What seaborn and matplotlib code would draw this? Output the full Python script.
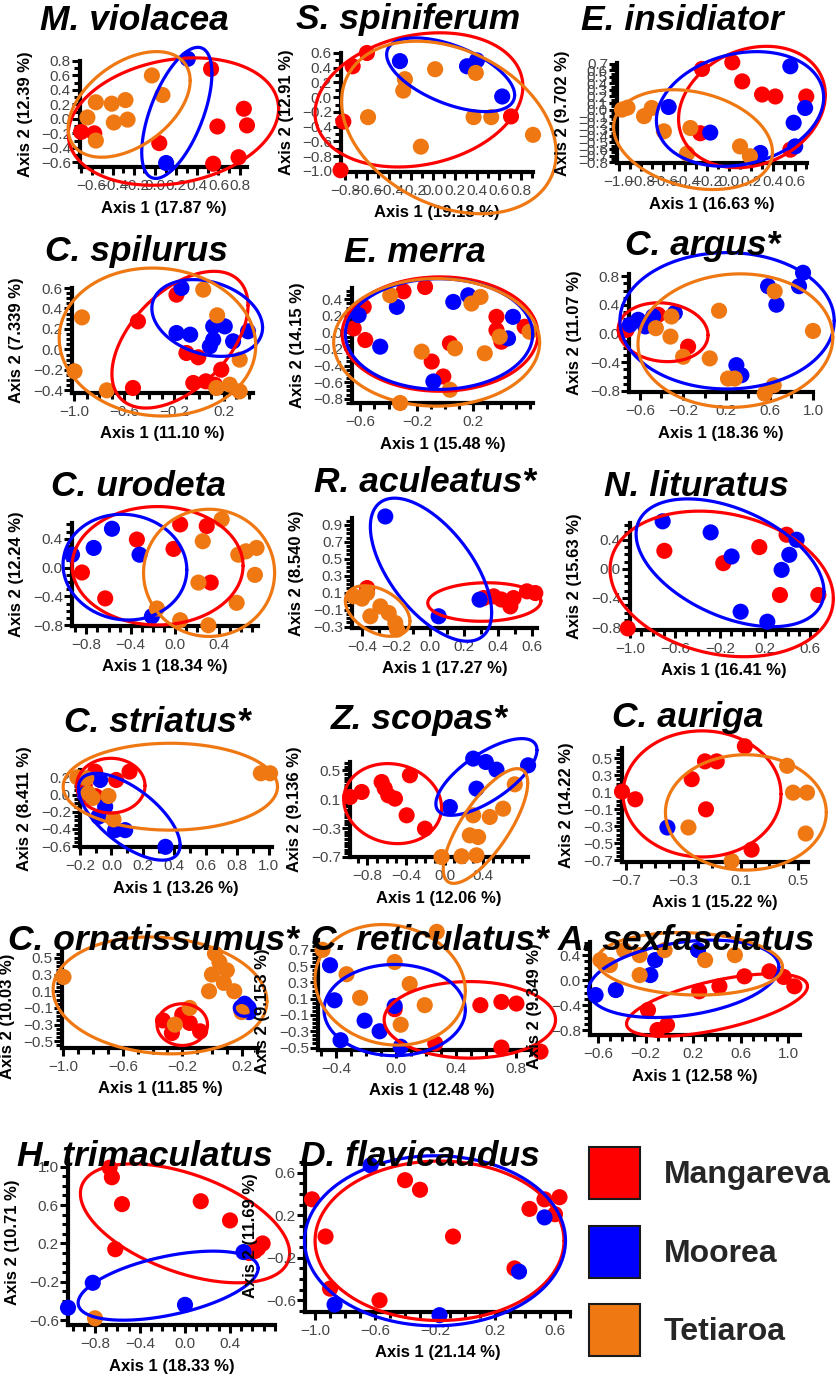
import numpy as np
import pandas as pd
import matplotlib
matplotlib.use("Agg")
import matplotlib.pyplot as plt
import seaborn as sns
from matplotlib.ticker import FixedLocator, FuncFormatter
from matplotlib.patches import Patch

SITES = ["Mangareva", "Moorea", "Tetiaroa"]
PALETTE = {"Mangareva": "#ff0000", "Moorea": "#0000ff", "Tetiaroa": "#ef7813"}

TITLES = ["M. violacea", "S. spiniferum", "E. insidiator",
          "C. spilurus", "E. merra", "C. argus*",
          "C. urodeta", "R. aculeatus*", "N. lituratus",
          "C. striatus*", "Z. scopas*", "C. auriga",
          "C. ornatissumus*", "C. reticulatus*", "A. sexfasciatus",
          "H. trimaculatus", "D. flavicaudus"]
AXIS1_PCT = ["17.87", "19.18", "16.63", "11.10", "15.48", "18.36", "18.34", "17.27",
             "16.41", "13.26", "12.06", "15.22", "11.85", "12.48", "12.58", "18.33", "21.14"]
AXIS2_PCT = ["12.39", "12.91", "9.702", "7.339", "14.15", "11.07", "12.24", "8.540",
             "15.63", "8.411", "9.136", "14.22", "10.03", "9.153", "9.349", "10.71", "11.69"]

# PCoA scores (Axis 1, Axis 2) per sampling site
M_VIOLACEA = {
    "Mangareva": [(-0.70, -0.18), (-0.575, -0.20), (0.53, 0.69), (0.84, 0.14), (0.87, -0.09),
                  (0.59, -0.105), (0.04, -0.335), (0.55, -0.62), (0.79, -0.53)],
    "Moorea": [(0.31, 0.83), (0.105, -0.61)],
    "Tetiaroa": [(-0.03, 0.60), (0.07, 0.33), (-0.56, 0.23), (-0.41, 0.21), (-0.28, 0.26),
                 (-0.64, 0.02), (-0.39, -0.05), (-0.26, -0.01), (-0.56, -0.30)],
}
S_SPINIFERUM = {
    "Mangareva": [(-0.60, 0.60), (-0.73, 0.42), (-0.815, -0.33), (-0.84, -0.99), (0.71, -0.26)],
    "Moorea": [(-0.30, 0.49), (0.31, 0.42), (0.40, 0.50), (0.63, 0.01)],
    "Tetiaroa": [(0.02, 0.38), (-0.255, 0.245), (-0.27, 0.09), (0.39, 0.33), (-0.59, -0.27),
                 (0.37, -0.27), (0.53, -0.27), (0.91, -0.51), (-0.11, -0.67)],
}
E_INSIDIATOR = {
    "Mangareva": [(-0.245, 0.62), (0.03, 0.72), (0.12, 0.43), (0.30, 0.23), (0.42, 0.20),
                  (0.70, 0.20), (-0.26, -0.36), (0.556, -0.61)],
    "Moorea": [(0.556, 0.66), (0.69, 0.025), (0.586, -0.20), (-0.547, 0.04), (-0.17, -0.35),
               (0.284, -0.66), (0.60, -0.56)],
    "Tetiaroa": [(-0.97, 0.0), (-0.92, 0.03), (-0.77, -0.10), (-0.70, 0.025), (-0.59, -0.33),
                 (-0.35, -0.28), (-0.38, -0.67), (0.10, -0.56), (0.19, -0.71)],
}
C_SPILURUS = {
    "Mangareva": [(-0.18, 0.535), (-0.49, 0.274), (-0.53, -0.377), (-0.10, -0.035), (-0.005, -0.077),
                  (0.18, -0.198), (-0.045, -0.328), (0.056, -0.312), (0.128, -0.345)],
    "Moorea": [(-0.14, 0.60), (-0.18, 0.16), (-0.07, 0.144), (0.115, 0.225), (0.208, 0.225),
               (0.115, 0.095), (0.088, 0.03), (0.275, 0.079), (0.395, 0.177)],
    "Tetiaroa": [(-0.94, 0.313), (-1.0, -0.214), (-0.74, -0.40), (0.035, 0.584), (0.147, 0.333),
                 (0.328, -0.10), (0.248, -0.345), (0.328, -0.41), (0.141, -0.377)],
}
E_MERRA = {
    "Mangareva": [(-0.294, 0.496), (-0.141, 0.548), (-0.576, 0.308), (-0.647, 0.048), (-0.565, -0.092),
                  (0.035, -0.132), (-0.094, -0.352), (-0.012, -0.532), (0.365, 0.188), (0.365, 0.028),
                  (0.40, -0.112), (0.565, 0.068)],
    "Moorea": [(-0.341, 0.308), (-0.612, 0.208), (-0.459, -0.172), (0.059, 0.368), (0.165, 0.448),
               (-0.082, -0.592), (0.447, -0.072), (0.482, 0.188)],
    "Tetiaroa": [(-0.388, 0.448), (0.188, 0.348), (0.252, 0.428), (-0.165, -0.232), (0.071, -0.192),
                 (0.282, -0.252), (0.388, -0.052), (0.60, 0.008), (0.035, -0.692), (-0.318, -0.852)],
}
C_ARGUS = {
    "Mangareva": [(-0.723, 0.05), (-0.431, 0.262), (-0.154, -0.182)],
    "Moorea": [(-0.692, 0.122), (-0.615, 0.192), (-0.55, 0.10), (-0.477, 0.239), (-0.277, 0.286),
               (0.585, 0.66), (0.662, 0.402), (0.908, 0.847), (0.871, 0.66), (0.292, -0.44), (0.338, -0.58)],
    "Tetiaroa": [(-0.452, 0.075), (-0.308, 0.238), (-0.317, -0.042), (-0.20, -0.323), (0.132, 0.318),
                 (0.046, -0.346), (0.215, -0.627), (0.277, -0.627), (0.646, 0.589), (1.0, 0.037),
                 (0.554, -0.837), (0.637, -0.72)],
}
C_URODETA = {
    "Mangareva": [(-0.344, 0.39), (-0.84, -0.067), (-0.63, -0.427), (0.047, 0.60), (0.287, 0.578),
                  (-0.013, 0.26), (0.323, -0.207)],
    "Moorea": [(-0.93, 0.18), (-0.734, 0.274), (-0.569, 0.54), (-0.32, 0.18), (-0.208, -0.675)],
    "Tetiaroa": [(0.422, 0.67), (0.251, 0.367), (0.572, 0.18), (0.641, 0.227), (0.737, 0.274),
                 (0.722, -0.10), (0.212, -0.207), (0.557, -0.488), (-0.163, -0.567), (0.047, -0.73),
                 (0.302, -0.80)],
}
R_ACULEATUS = {
    "Mangareva": [(-0.37, 0.155), (0.316, 0.037), (0.375, 0.057), (0.42, 0.02), (0.473, -0.061),
                  (0.492, 0.037), (0.571, 0.116), (0.62, 0.096)],
    "Moorea": [(-0.263, 0.998), (0.051, -0.178), (0.292, 0.018)],
    "Tetiaroa": [(-0.449, 0.057), (-0.40, 0.03), (-0.292, -0.061), (-0.351, -0.178), (-0.204, -0.257),
                 (-0.194, -0.335), (-0.243, -0.139), (-0.37, 0.096)],
}
N_LITURATUS = {
    "Mangareva": [(-0.695, 0.248), (-0.172, 0.078), (0.148, 0.299), (0.39, 0.469), (0.331, -0.359),
                  (0.672, -0.359), (-1.02, -0.818)],
    "Moorea": [(-0.71, 0.653), (-0.284, 0.501), (-0.098, 0.17), (0.479, 0.40), (0.414, 0.193),
               (0.346, -0.014), (-0.018, -0.589), (0.219, -0.726)],
    "Tetiaroa": [],
}
C_STRIATUS = {
    "Mangareva": [(-0.104, 0.266), (0.03, 0.169), (0.115, 0.266), (-0.17, 0.10), (-0.10, -0.02)],
    "Moorea": [(-0.072, 0.169), (-0.17, 0.0), (-0.04, -0.142), (-0.083, -0.258), (0.023, -0.414),
               (0.087, -0.414), (0.343, -0.608)],
    "Tetiaroa": [(-0.217, 0.20), (-0.16, 0.19), (-0.147, 0.014), (-0.12, -0.04), (-0.019, -0.017),
                 (0.013, -0.289), (0.949, 0.247), (1.008, 0.247)],
}
Z_SCOPAS = {
    "Mangareva": [(-0.979, 0.131), (-0.859, 0.20), (-0.652, 0.338), (-0.62, 0.25), (-0.583, 0.154),
                  (-0.514, 0.108), (-0.359, 0.431), (-0.393, -0.123), (-0.203, -0.308)],
    "Moorea": [(0.297, 0.662), (0.428, 0.615), (0.538, 0.509), (0.866, 0.569), (0.331, 0.246),
               (0.055, -0.008)],
    "Tetiaroa": [(0.728, 0.306), (0.607, -0.031), (0.469, -0.146), (0.297, -0.123), (0.262, -0.40),
                 (0.348, -0.423), (-0.031, -0.70), (0.176, -0.69), (0.331, -0.677)],
}
C_AURIGA = {
    "Mangareva": [(-0.73, 0.106), (-0.637, 0.016), (-0.242, 0.252), (-0.149, 0.461), (-0.067, 0.461),
                  (0.13, 0.638), (-0.142, -0.102), (0.177, -0.575)],
    "Moorea": [(-0.412, -0.315)],
    "Tetiaroa": [(-0.265, -0.315), (0.426, 0.409), (0.467, 0.094), (0.565, 0.094), (0.556, -0.386),
                 (0.037, -0.709)],
}
C_ORNATISSUMUS = {
    "Mangareva": [(-0.33, -0.25), (-0.27, -0.40), (-0.15, -0.28), (-0.08, -0.38), (-0.20, -0.18)],
    "Moorea": [(0.20, -0.10), (0.25, -0.15), (0.22, -0.05)],
    "Tetiaroa": [(-1.0, 0.27), (0.02, 0.55), (0.05, 0.45), (0.10, 0.35), (0.0, 0.30), (0.08, 0.20),
                 (0.15, 0.10), (-0.02, 0.10), (-0.25, -0.30), (0.20, -0.15), (-0.15, -0.10)],
}
C_RETICULATUS = {
    "Mangareva": [(-0.01, -0.03), (0.56, 0.02), (0.70, 0.06), (0.80, 0.04), (0.96, -0.55),
                  (0.70, -0.50), (0.26, -0.45)],
    "Moorea": [(-0.44, 0.51), (-0.41, 0.08), (-0.37, -0.41), (-0.21, -0.17), (-0.11, -0.30),
               (-0.01, 0.01), (0.03, -0.49)],
    "Tetiaroa": [(0.27, 0.92), (-0.49, 0.70), (-0.33, 0.40), (-0.01, 0.55), (0.09, 0.28),
                 (0.19, 0.02), (0.03, -0.22), (-0.24, 0.11)],
}
A_SEXFASCIATUS = {
    "Mangareva": [(0.25, -0.18), (0.42, -0.10), (0.63, 0.06), (0.84, 0.14), (0.96, 0.05),
                  (1.05, -0.10), (-0.18, -0.48), (-0.10, -0.80), (-0.02, -0.72)],
    "Moorea": [(-0.62, -0.24), (-0.45, -0.16), (-0.16, 0.08), (-0.12, 0.32), (0.24, 0.48)],
    "Tetiaroa": [(-0.58, 0.32), (-0.50, 0.24), (-0.38, 0.48), (-0.25, 0.40), (-0.25, 0.08),
                 (-0.04, 0.48), (0.30, 0.32), (0.55, 0.40)],
}
H_TRIMACULATUS = {
    "Mangareva": [(-0.67, 0.99), (-0.65, 0.89), (-0.56, 0.61), (-0.62, 0.14), (0.14, 0.64),
                  (0.40, 0.44), (0.65, 0.15), (0.69, 0.20), (0.62, 0.12), (0.57, 0.10)],
    "Moorea": [(-1.04, -0.47), (-0.82, -0.21), (0.0, -0.44), (0.52, 0.11)],
    "Tetiaroa": [(-0.80, -0.58)],
}
D_FLAVICAUDUS = {
    "Mangareva": [(-1.02, 0.35), (-0.40, 0.53), (-0.30, 0.44), (-0.93, 0.0), (-0.90, -0.49),
                  (-0.57, -0.60), (-0.08, 0.0), (0.33, -0.30), (0.53, 0.35), (0.63, 0.37),
                  (0.60, 0.21), (0.43, 0.26)],
    "Moorea": [(-0.63, 0.67), (-0.87, -0.64), (-0.17, -0.74), (0.53, 0.18), (0.36, -0.33)],
    "Tetiaroa": [],
}

# 95 % ellipses per site: (centre x, centre y, half-width, half-height, correlation)
ELL_M_VIOLACEA = {"Mangareva": (0.174, -0.037, 0.995, 0.88, 0.2),
                  "Moorea": (0.206, 0.083, 0.332, 0.906, 0.6),
                  "Tetiaroa": (-0.245, 0.20, 0.577, 0.73, 0.45)}
ELL_S_SPINIFERUM = {"Mangareva": (-0.127, -0.036, 0.945, 0.91, 0.2),
                    "Moorea": (0.161, 0.305, 0.582, 0.50, -0.55),
                    "Tetiaroa": (0.145, -0.41, 0.976, 1.17, -0.3)}
ELL_E_INSIDIATOR = {"Mangareva": (0.208, 0.04, 0.665, 0.924, 0.2),
                    "Moorea": (0.10, 0.01, 0.758, 0.873, 0.2),
                    "Tetiaroa": (-0.326, -0.457, 0.72, 0.76, -0.25)}
ELL_C_SPILURUS = {"Mangareva": (-0.152, 0.095, 0.547, 0.668, 0.5),
                  "Moorea": (0.067, 0.307, 0.445, 0.375, -0.25),
                  "Tetiaroa": (-0.333, 0.072, 0.79, 0.723, -0.05)}
ELL_E_MERRA = {"Mangareva": (-0.035, -0.02, 0.694, 0.69, 0.0),
               "Moorea": (-0.042, -0.02, 0.664, 0.668, 0.0),
               "Tetiaroa": (-0.059, -0.12, 0.73, 0.77, 0.0)}
ELL_C_ARGUS = {"Mangareva": (-0.385, 0.019, 0.415, 0.41, -0.1),
               "Moorea": (0.206, 0.178, 0.99, 0.95, 0.0),
               "Tetiaroa": (0.283, -0.098, 0.90, 0.93, 0.05)}
ELL_C_URODETA = {"Mangareva": (-0.157, 0.026, 0.772, 0.822, 0.0),
                 "Moorea": (-0.452, 0.007, 0.559, 0.734, -0.05),
                 "Tetiaroa": (0.308, -0.072, 0.592, 0.883, 0.0)}
ELL_R_ACULEATUS = {"Mangareva": (0.32, -0.01, 0.333, 0.227, 0.05),
                   "Moorea": (0.006, 0.371, 0.357, 0.843, -0.6),
                   "Tetiaroa": (-0.308, -0.116, 0.19, 0.298, -0.4)}
ELL_N_LITURATUS = {"Mangareva": (-0.186, -0.207, 0.991, 1.0, -0.2),
                   "Moorea": (-0.112, 0.083, 0.834, 0.878, -0.45)}
ELL_C_STRIATUS = {"Mangareva": (-0.004, 0.103, 0.217, 0.318, 0.0),
                  "Moorea": (0.113, -0.258, 0.323, 0.505, -0.65),
                  "Tetiaroa": (0.374, 0.091, 0.681, 0.505, 0.0)}
ELL_Z_SCOPAS = {"Mangareva": (-0.538, 0.039, 0.507, 0.554, -0.1),
                "Moorea": (0.434, 0.408, 0.524, 0.531, 0.7),
                "Tetiaroa": (0.424, -0.271, 0.438, 0.794, 0.75)}
ELL_C_AURIGA = {"Mangareva": (-0.17, 0.079, 0.553, 0.74, 0.0),
                "Tetiaroa": (0.137, -0.138, 0.563, 0.677, 0.0)}
ELL_C_ORNATISSUMUS = {"Mangareva": (-0.20, -0.30, 0.17, 0.25, 0.0),
                      "Moorea": (0.22, -0.10, 0.07, 0.10, 0.0),
                      "Tetiaroa": (-0.35, 0.05, 0.72, 0.70, -0.1)}
ELL_C_RETICULATUS = {"Mangareva": (0.49, -0.16, 0.57, 0.47, 0.0),
                     "Moorea": (-0.01, -0.04, 0.47, 0.56, 0.0),
                     "Tetiaroa": (-0.04, 0.27, 0.50, 0.74, -0.1)}
ELL_A_SEXFASCIATUS = {"Mangareva": (0.40, -0.40, 0.76, 0.50, 0.6),
                      "Moorea": (0.12, 0.02, 0.80, 0.62, 0.3),
                      "Tetiaroa": (0.17, 0.26, 0.78, 0.50, -0.1)}
ELL_H_TRIMACULATUS = {"Mangareva": (0.0, 0.41, 0.93, 0.62, -0.5),
                      "Moorea": (-0.15, -0.24, 0.80, 0.36, 0.5)}
ELL_D_FLAVICAUDUS = {"Mangareva": (-0.17, -0.04, 0.83, 0.75, 0.0),
                     "Moorea": (-0.20, -0.04, 0.87, 0.80, 0.0)}

POINTS = [M_VIOLACEA, S_SPINIFERUM, E_INSIDIATOR, C_SPILURUS, E_MERRA, C_ARGUS,
          C_URODETA, R_ACULEATUS, N_LITURATUS, C_STRIATUS, Z_SCOPAS, C_AURIGA,
          C_ORNATISSUMUS, C_RETICULATUS, A_SEXFASCIATUS, H_TRIMACULATUS, D_FLAVICAUDUS]
ELLIPSES = [ELL_M_VIOLACEA, ELL_S_SPINIFERUM, ELL_E_INSIDIATOR, ELL_C_SPILURUS, ELL_E_MERRA,
            ELL_C_ARGUS, ELL_C_URODETA, ELL_R_ACULEATUS, ELL_N_LITURATUS, ELL_C_STRIATUS,
            ELL_Z_SCOPAS, ELL_C_AURIGA, ELL_C_ORNATISSUMUS, ELL_C_RETICULATUS,
            ELL_A_SEXFASCIATUS, ELL_H_TRIMACULATUS, ELL_D_FLAVICAUDUS]

# axis ranges
XLIM = [(-0.71, 0.87), (-0.836, 0.91), (-1.015, 0.707), (-1.02, 0.435), (-0.659, 0.624), (-0.70, 1.0),
        (-0.93, 0.75), (-0.459, 0.63), (-1.0, 0.66), (-0.2, 1.02), (-0.98, 0.865), (-0.73, 0.572),
        (-1.01, 0.31), (-0.52, 0.99), (-0.667, 1.097), (-1.04, 0.80), (-1.067, 0.70)]
YLIM = [(-0.665, 0.80), (-1.014, 0.60), (-0.813, 0.71), (-0.426, 0.60), (-0.852, 0.536), (-0.814, 0.83),
        (-0.81, 0.62), (-0.316, 0.98), (-0.84, 0.63), (-0.61, 0.285), (-0.70, 0.615), (-0.72, 0.618),
        (-0.58, 0.57), (-0.53, 0.82), (-0.88, 0.61), (-0.65, 1.07), (-0.71, 0.72)]
# labelled ticks (first, last, step) and minor tick step
XTICKS = [(-0.6, 0.8, 0.2), (-0.8, 0.8, 0.2), (-1.0, 0.6, 0.2), (-1.0, 0.2, 0.4), (-0.6, 0.2, 0.4),
          (-0.6, 1.0, 0.4), (-0.8, 0.4, 0.4), (-0.4, 0.6, 0.2), (-1.0, 0.6, 0.4), (-0.2, 1.0, 0.2),
          (-0.8, 0.4, 0.4), (-0.7, 0.5, 0.4), (-1.0, 0.2, 0.4), (-0.4, 0.8, 0.4), (-0.6, 1.0, 0.4),
          (-0.8, 0.4, 0.4), (-1.0, 0.6, 0.4)]
YTICKS = [(-0.6, 0.8, 0.2), (-1.0, 0.6, 0.2), (-0.8, 0.7, 0.1), (-0.4, 0.6, 0.2), (-0.8, 0.4, 0.2),
          (-0.8, 0.8, 0.4), (-0.8, 0.4, 0.4), (-0.3, 0.9, 0.2), (-0.8, 0.4, 0.4), (-0.6, 0.2, 0.2),
          (-0.7, 0.5, 0.4), (-0.7, 0.5, 0.2), (-0.5, 0.5, 0.2), (-0.5, 0.7, 0.2), (-0.8, 0.4, 0.4),
          (-0.6, 1.0, 0.4), (-0.6, 0.6, 0.4)]
XMINOR = [0.1, 0.1, 0.1, 0.1, 0.1, 0.2, 0.1, 0.1, 0.1, 0.1, 0.1, 0.1, 0.1, 0.1, 0.1, 0.1, 0.1]
YMINOR = [0.1, 0.1, 0.05, 0.05, 0.05, 0.1, 0.1, 0.05, 0.1, 0.05, 0.05, 0.05, 0.05, 0.05, 0.1, 0.1, 0.1]

# layout: axes boxes in pixels (left, top, right, bottom), title centres, y-label centre offsets
W, H = 836, 1377
BOXES = [(80, 61, 247, 167), (341, 53, 533, 172), (617, 63, 807, 163),
         (72, 288, 253, 393), (352, 288, 533, 403), (629, 274, 813, 392),
         (72, 523, 258, 626), (352, 518, 537, 628), (630, 523, 817, 630),
         (80, 770, 272, 847), (350, 762, 528, 857), (622, 748, 808, 862),
         (62, 952, 258, 1048), (318, 940, 545, 1050), (590, 942, 800, 1035),
         (68, 1160, 275, 1325), (305, 1160, 570, 1312)]
TITLE_POS = [(134, 20), (408, 20), (682, 20), (136, 252), (415, 252), (703, 245),
             (138, 487), (425, 482), (696, 487), (157, 722), (419, 720), (688, 717),
             (153, 940), (430, 940), (686, 940), (145, 1157), (420, 1157)]
YLABEL_SHIFT = [0, 0, 0, 0, 0, 0, 0, 0, 0, 0, 0, 0, 16, 16, 18, 0, 0]

FONT = "Liberation Sans"
TICK_GREY = "#454545"

sns.set_theme(style="white")
plt.rcParams["font.family"] = [FONT, "DejaVu Sans"]
plt.rcParams["axes.unicode_minus"] = True


def tick_values(first, last, step):
    n = int(round((last - first) / step))
    return [round(first + k * step, 3) for k in range(n + 1)]


def fmt(v, _pos=None):
    s = f"{v:.1f}"
    if s == "-0.0":
        s = "0.0"
    return s.replace("-", "\u2212")


def ellipse_curve(cx, cy, sx, sy, r):
    t = np.linspace(0, 2 * np.pi, 240)
    x = cx + sx * np.cos(t)
    y = cy + sy * (r * np.cos(t) + np.sqrt(1 - r * r) * np.sin(t))
    return x, y


fig = plt.figure(figsize=(W / 100, H / 100), dpi=100)

for i, title in enumerate(TITLES):
    l, t, r, b = BOXES[i]
    ax = fig.add_axes([l / W, 1 - b / H, (r - l) / W, (b - t) / H])
    ax.set_facecolor("none")

    rows = [(s, x, y) for s in SITES for (x, y) in POINTS[i].get(s, [])]
    df = pd.DataFrame(rows, columns=["site", "x", "y"])
    sns.scatterplot(data=df, x="x", y="y", hue="site", hue_order=SITES, palette=PALETTE,
                    s=135, linewidth=0, alpha=1, legend=False, ax=ax, clip_on=False, zorder=3)

    for s in SITES:
        if s in ELLIPSES[i]:
            ex, ey = ellipse_curve(*ELLIPSES[i][s])
            ax.plot(ex, ey, color=PALETTE[s], lw=2.3, clip_on=False, zorder=4)

    ax.set_xlim(*XLIM[i])
    ax.set_ylim(*YLIM[i])

    ax.xaxis.set_major_locator(FixedLocator(tick_values(*XTICKS[i])))
    ax.yaxis.set_major_locator(FixedLocator(tick_values(*YTICKS[i])))
    xm = XMINOR[i]
    ax.xaxis.set_minor_locator(FixedLocator(
        np.arange(np.ceil(XLIM[i][0] / xm) * xm, XLIM[i][1] + 1e-9, xm)))
    ym = YMINOR[i]
    ax.yaxis.set_minor_locator(FixedLocator(
        np.arange(np.ceil(YLIM[i][0] / ym) * ym, YLIM[i][1] + 1e-9, ym)))
    ax.xaxis.set_major_formatter(FuncFormatter(fmt))
    ax.yaxis.set_major_formatter(FuncFormatter(fmt))

    for side in ("top", "right"):
        ax.spines[side].set_visible(False)
    for side in ("left", "bottom"):
        ax.spines[side].set_linewidth(3.0)
        ax.spines[side].set_color("black")

    ax.tick_params(which="major", direction="out", length=6, width=2.2, color="black",
                   labelsize=11, labelcolor=TICK_GREY, left=True, bottom=True)
    ax.tick_params(which="minor", direction="out", length=4, width=2.2, color="black",
                   left=True, bottom=True)
    ax.tick_params(axis="y", which="major", pad=0.5)
    ax.tick_params(axis="x", which="major", pad=2.5)

    w_px, h_px = r - l, b - t
    ax.set_xlabel(f"Axis 1 ({AXIS1_PCT[i]} %)", fontsize=12, fontweight="bold", color="black")
    ax.set_ylabel(f"Axis 2 ({AXIS2_PCT[i]} %)", fontsize=12, fontweight="bold", color="black")
    ax.xaxis.set_label_coords(0.5, -41 / h_px)
    ax.xaxis.label.set_va("center")
    ax.yaxis.set_label_coords(-55 / w_px, 0.5 - YLABEL_SHIFT[i] / h_px)
    ax.yaxis.label.set_va("center")

    tx, ty = TITLE_POS[i]
    fig.text(tx / W, 1 - ty / H, title, ha="center", va="center", fontsize=25.5,
             fontweight="bold", fontstyle="italic", color="black")

handles = [Patch(facecolor=PALETTE[s], edgecolor="#1a1a1a", linewidth=1.5) for s in SITES]
fig.legend(handles, SITES, loc="upper left", bbox_to_anchor=(589 / W, 1 - 1147 / H),
           frameon=False, prop={"family": FONT, "weight": "bold", "size": 23},
           handlelength=1.6, handleheight=2.13, handletextpad=0.75, labelspacing=0.83,
           borderpad=0, borderaxespad=0)

fig.savefig("out.png", dpi=100)
